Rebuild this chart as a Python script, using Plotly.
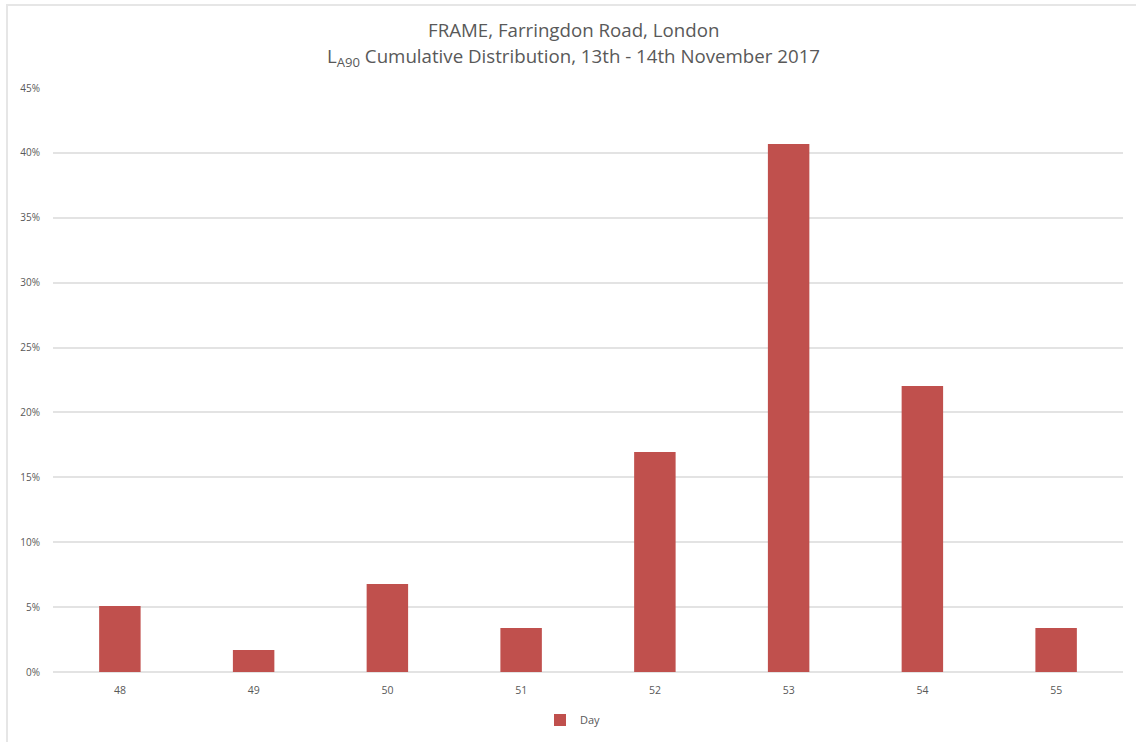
import plotly.graph_objects as go

# LA90 levels (dB) and share of measurement periods at each level
levels = ["48", "49", "50", "51", "52", "53", "54", "55"]
day_share = [0.0508, 0.0169, 0.0678, 0.0339, 0.1695, 0.4068, 0.2203, 0.0339]
y_ticks = [0, 0.05, 0.10, 0.15, 0.20, 0.25, 0.30, 0.35, 0.40, 0.45]
y_tick_labels = ["0%", "5%", "10%", "15%", "20%", "25%", "30%", "35%", "40%", "45%"]

W, H = 1136, 742
grey_text = "#595959"
grid = "#e3e3e3"
font_family = "Open Sans, Noto Sans, sans-serif"

PL, PR, PT, PB = 53, 13, 88, 70
plot_w = W - PL - PR
plot_h = H - PT - PB


def px_x(x):
    return (x - PL) / plot_w


def px_y(y):
    return (H - PB - y) / plot_h


fig = go.Figure()
fig.add_trace(go.Bar(
    x=levels,
    y=day_share,
    name="Day",
    marker=dict(color="#c0504d", line=dict(width=0)),
    width=0.31,
))

fig.update_layout(
    width=W,
    height=H,
    margin=dict(l=PL, r=PR, t=PT, b=PB, autoexpand=False),
    paper_bgcolor="white",
    plot_bgcolor="white",
    font=dict(family=font_family, color=grey_text, size=10),
    showlegend=True,
    legend=dict(
        orientation="h",
        x=px_x(573), xanchor="center",
        y=px_y(720), yanchor="middle",
        font=dict(size=11, color=grey_text),
        itemwidth=30,
    ),
    xaxis=dict(
        type="category",
        showgrid=False,
        showline=False,
        ticks="",
        ticklabelstandoff=10,
        tickfont=dict(size=10.5, color=grey_text),
        fixedrange=True,
    ),
    yaxis=dict(
        range=[0, 0.45],
        tickvals=y_ticks,
        ticktext=y_tick_labels,
        showgrid=True,
        gridcolor=grid,
        gridwidth=1.5,
        zeroline=True,
        zerolinecolor=grid,
        zerolinewidth=1.5,
        showline=False,
        ticks="",
        ticklabelstandoff=12,
        tickfont=dict(size=10, color=grey_text),
        fixedrange=True,
    ),
    shapes=[
        # light frame round the chart area
        dict(type="rect", xref="paper", yref="paper",
             x0=px_x(7), x1=px_x(1140),
             y0=px_y(746), y1=px_y(5),
             line=dict(color="#e6e6e6", width=2), fillcolor="rgba(0,0,0,0)",
             layer="below"),
    ],
    annotations=[
        dict(text="FRAME, Farringdon Road, London",
             xref="paper", yref="paper", x=px_x(573), y=px_y(30),
             xanchor="center", yanchor="middle", showarrow=False,
             font=dict(size=18.7, color=grey_text, family=font_family)),
        dict(text="L<sub>A90</sub> Cumulative Distribution, 13th - 14th November 2017",
             xref="paper", yref="paper", x=px_x(573), y=px_y(57),
             xanchor="center", yanchor="middle", showarrow=False,
             font=dict(size=18.7, color=grey_text, family=font_family)),
    ],
)

fig.write_html("out.html")
